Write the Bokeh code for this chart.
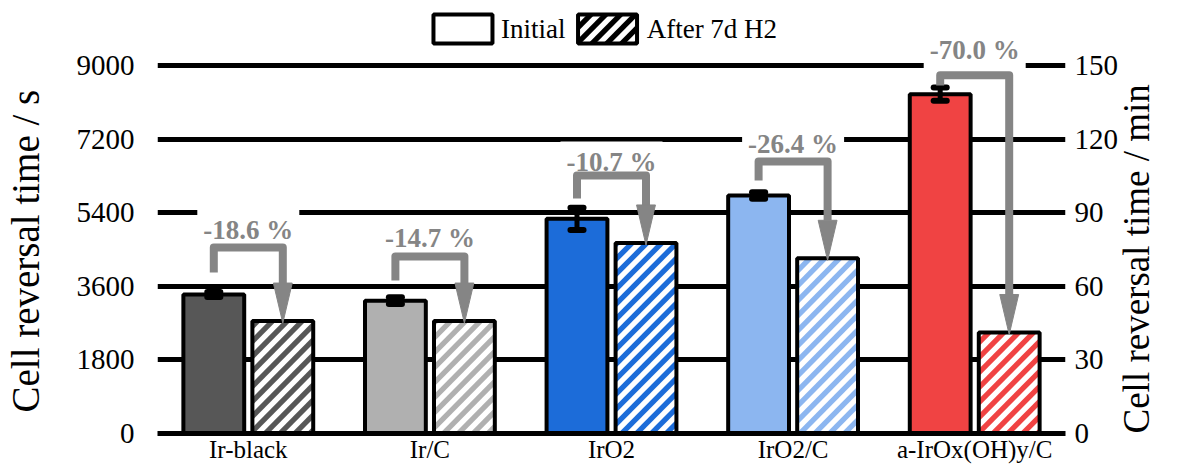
import math
from bokeh.plotting import figure
from bokeh.models import (Range1d, FactorRange, LinearAxis, FixedTicker, Label,
                          ColumnDataSource)
from bokeh.core.properties import value
from bokeh.embed import file_html
from bokeh.resources import INLINE

# ---------------- data ----------------
categories = ["Ir-black", "Ir/C", "IrO2", "IrO2/C", "a-IrOx(OH)y/C"]
initial = [3400, 3250, 5250, 5820, 8300]
after_h2 = [2750, 2750, 4660, 4285, 2470]
errors = [60, 85, 270, 80, 160]
colors = ["#575757", "#b0b0b0", "#1c6cd9", "#8cb6f0", "#f04343"]
change_labels = ["-18.6 %", "-14.7 %", "-10.7 %", "-26.4 %", "-70.0 %"]
bracket_start = [3940, 3740, 5750, 6190, 8510]
bracket_top = [4550, 4330, 6310, 6650, 8760]
label_y = [4970, 4770, 6630, 7070, 9370]
left_ticks = [0, 1800, 3600, 5400, 7200, 9000]
right_ticks = [0, 30, 60, 90, 120, 150]
legend_labels = ["Initial", "After 7d H2"]
y_title_left = "Cell reversal time / s"
y_title_right = "Cell reversal time / min"

# ---------------- style / layout ----------------
WIDTH, HEIGHT = 1180, 466
BORDER_L, BORDER_R, BORDER_B = 153, 110, 33
Y_MAX = 10591
FONT = "Liberation Serif"
GRAY = "#858585"
OFF = 0.19
W = 0.335
CAP = 0.036
HEAD_HW = 0.052
HEAD_LEN = 930
TIP_IN = 50
STRIPE_PERIOD = 15.0   # px, horizontal
STRIPE_WIDTH = 7.5     # px, horizontal width of coloured band
NBSP = "\u00a0" * 7

FRAME_W = WIDTH - BORDER_L - BORDER_R
FRAME_H = HEIGHT - BORDER_B
PX_X = FRAME_W / len(categories)   # px per category unit
PX_Y = FRAME_H / Y_MAX             # px per second

# legend layout (data coordinates of the legend row)
LEG_Y = (FRAME_H - 28.5) / PX_Y
LEG_BOX_X = [(461.5 - BORDER_L) / PX_X, (607.5 - BORDER_L) / PX_X]
LEG_TEXT_X = [(500 - BORDER_L) / PX_X, (647 - BORDER_L) / PX_X]
LEG_BOX_W, LEG_BOX_H = 59, 29

xc = [i + 0.5 for i in range(len(categories))]
x_init = [x - OFF for x in xc]
x_after = [x + OFF for x in xc]


def clip_halfplane(poly, f):
    out = []
    n = len(poly)
    for i in range(n):
        a, b = poly[i], poly[(i + 1) % n]
        fa, fb = f(a), f(b)
        if fa >= 0:
            out.append(a)
        if (fa >= 0) != (fb >= 0):
            t = fa / (fa - fb)
            out.append((a[0] + t * (b[0] - a[0]), a[1] + t * (b[1] - a[1])))
    return out


def stripes_for_rect(x0, x1, y0, y1):
    """45-degree stripes inside a data-space rectangle, computed in pixel space."""
    px0, px1, py0, py1 = x0 * PX_X, x1 * PX_X, y0 * PX_Y, y1 * PX_Y
    rect = [(px0, py0), (px1, py0), (px1, py1), (px0, py1)]
    lo = px0 - py1
    hi = px1 - py0
    k = math.floor(lo / STRIPE_PERIOD) - 1
    polys_x, polys_y = [], []
    while k * STRIPE_PERIOD <= hi:
        a = k * STRIPE_PERIOD
        b = a + STRIPE_WIDTH
        poly = clip_halfplane(rect, lambda p_, a=a: (p_[0] - p_[1]) - a)
        poly = clip_halfplane(poly, lambda p_, b=b: b - (p_[0] - p_[1]))
        if len(poly) >= 3:
            polys_x.append([q[0] / PX_X for q in poly])
            polys_y.append([q[1] / PX_Y for q in poly])
        k += 1
    return polys_x, polys_y


p = figure(width=WIDTH, height=HEIGHT, x_range=FactorRange(*categories),
           y_range=Range1d(0, Y_MAX), output_backend="svg", toolbar_location=None,
           min_border_left=BORDER_L, min_border_right=BORDER_R, min_border_top=0,
           min_border_bottom=BORDER_B)
p.outline_line_color = None
p.background_fill_color = "white"
p.border_fill_color = "white"

# grid
p.xgrid.visible = False
p.ygrid.ticker = FixedTicker(ticks=left_ticks)
p.ygrid.grid_line_color = "black"
p.ygrid.grid_line_width = 5

# left axis
p.yaxis.ticker = FixedTicker(ticks=left_ticks)
p.yaxis.axis_line_color = None
p.yaxis.major_tick_line_color = None
p.yaxis.minor_tick_line_color = None
p.yaxis.major_tick_out = 0
p.yaxis.major_tick_in = 0
p.yaxis.major_label_text_font = FONT
p.yaxis.major_label_text_font_size = "29px"
p.yaxis.major_label_text_color = "black"
p.yaxis.major_label_standoff = 23
p.yaxis.axis_label = y_title_left + NBSP
p.yaxis.axis_label_text_font = FONT
p.yaxis.axis_label_text_font_size = "39px"
p.yaxis.axis_label_text_font_style = "normal"
p.yaxis.axis_label_text_color = "black"
p.yaxis.axis_label_standoff = 27

# right axis
p.extra_y_ranges = {"min": Range1d(0, Y_MAX / 60)}
ax_r = LinearAxis(y_range_name="min", ticker=FixedTicker(ticks=right_ticks),
                  axis_label=y_title_right)
ax_r.axis_line_color = None
ax_r.major_tick_line_color = None
ax_r.minor_tick_line_color = None
ax_r.major_tick_out = 0
ax_r.major_tick_in = 0
ax_r.major_label_text_font = FONT
ax_r.major_label_text_font_size = "29px"
ax_r.major_label_text_color = "black"
ax_r.major_label_standoff = 9
ax_r.axis_label_text_font = FONT
ax_r.axis_label_text_font_size = "37px"
ax_r.axis_label_text_font_style = "normal"
ax_r.axis_label_text_color = "black"
ax_r.axis_label_standoff = 15
try:
    ax_r.axis_label_orientation = math.pi / 2
except Exception:
    pass
try:
    ax_r.axis_label_align = "start"
except Exception:
    pass
p.add_layout(ax_r, "right")

# x axis
p.xaxis.axis_line_color = "black"
p.xaxis.axis_line_width = 5
p.xaxis.major_tick_line_color = None
p.xaxis.minor_tick_line_color = None
p.xaxis.major_tick_out = 0
p.xaxis.major_tick_in = 0
p.xaxis.major_label_text_font = FONT
p.xaxis.major_label_text_font_size = "25px"
p.xaxis.major_label_text_color = "black"
p.xaxis.major_label_standoff = 2

# percentage labels (drawn beneath the arrows, above the grid)
for x, y, t in zip(xc, label_y, change_labels):
    p.add_layout(Label(x=x, y=y, text=t, text_align="center", text_baseline="middle",
                       text_font=FONT, text_font_size="27px", text_font_style="bold",
                       text_color=GRAY, background_fill_color="white", padding=6,
                       level="underlay"))

# initial bars
src_i = ColumnDataSource(dict(x=x_init, top=initial, color=colors))
p.vbar(x="x", top="top", width=W, source=src_i, fill_color="color",
       line_color="black", line_width=4)

# after-H2 bars: white fill, 45-degree coloured stripes, black outline
src_a = ColumnDataSource(dict(x=x_after, top=after_h2, color=colors))
p.vbar(x="x", top="top", width=W, source=src_a, fill_color="white", line_color=None)
sx, sy, sc = [], [], []
for x, top, col in zip(x_after, after_h2, colors):
    px_, py_ = stripes_for_rect(x - W / 2, x + W / 2, 0, top)
    sx += px_
    sy += py_
    sc += [col] * len(px_)
p.patches(xs=sx, ys=sy, fill_color=sc, line_color=None)
p.vbar(x="x", top="top", width=W, source=src_a, fill_color=None,
       line_color="black", line_width=4)

# error bars
lo = [v - e for v, e in zip(initial, errors)]
hi = [v + e for v, e in zip(initial, errors)]
p.segment(x0=x_init, y0=lo, x1=x_init, y1=hi, line_color="black", line_width=5)
p.segment(x0=[x - CAP for x in x_init], y0=hi, x1=[x + CAP for x in x_init], y1=hi,
          line_color="black", line_width=6, line_cap="round")
p.segment(x0=[x - CAP for x in x_init], y0=lo, x1=[x + CAP for x in x_init], y1=lo,
          line_color="black", line_width=6, line_cap="round")

# brackets / arrows
xs, ys, hx, hy = [], [], [], []
for xi, xa, s, t, a in zip(x_init, x_after, bracket_start, bracket_top, after_h2):
    base = a + HEAD_LEN
    xs.append([xi, xi, xa, xa])
    ys.append([s, t, t, base])
    hx.append([xa - HEAD_HW, xa + HEAD_HW, xa])
    hy.append([base, base, a - TIP_IN])
p.multi_line(xs=xs, ys=ys, line_color=GRAY, line_width=8, line_join="round")
p.patches(xs=hx, ys=hy, fill_color=GRAY, line_color=GRAY, line_width=1)

# legend (drawn at the top of the plot)
p.rect(x=LEG_BOX_X, y=[LEG_Y, LEG_Y], width=LEG_BOX_W, height=LEG_BOX_H,
       width_units="screen", height_units="screen", fill_color="white",
       line_color=None)
bw, bh = LEG_BOX_W / PX_X, LEG_BOX_H / PX_Y
lx, ly = stripes_for_rect(LEG_BOX_X[1] - bw / 2, LEG_BOX_X[1] + bw / 2,
                          LEG_Y - bh / 2, LEG_Y + bh / 2)
p.patches(xs=lx, ys=ly, fill_color="black", line_color=None)
p.rect(x=LEG_BOX_X, y=[LEG_Y, LEG_Y], width=LEG_BOX_W, height=LEG_BOX_H,
       width_units="screen", height_units="screen", fill_color=None,
       line_color="black", line_width=4)
p.text(x=LEG_TEXT_X, y=[LEG_Y, LEG_Y], text=legend_labels, text_align="left",
       text_baseline="middle", text_font=value(FONT), text_font_size="27px",
       text_color="black")

open("out.html", "w").write(file_html(p, INLINE))
